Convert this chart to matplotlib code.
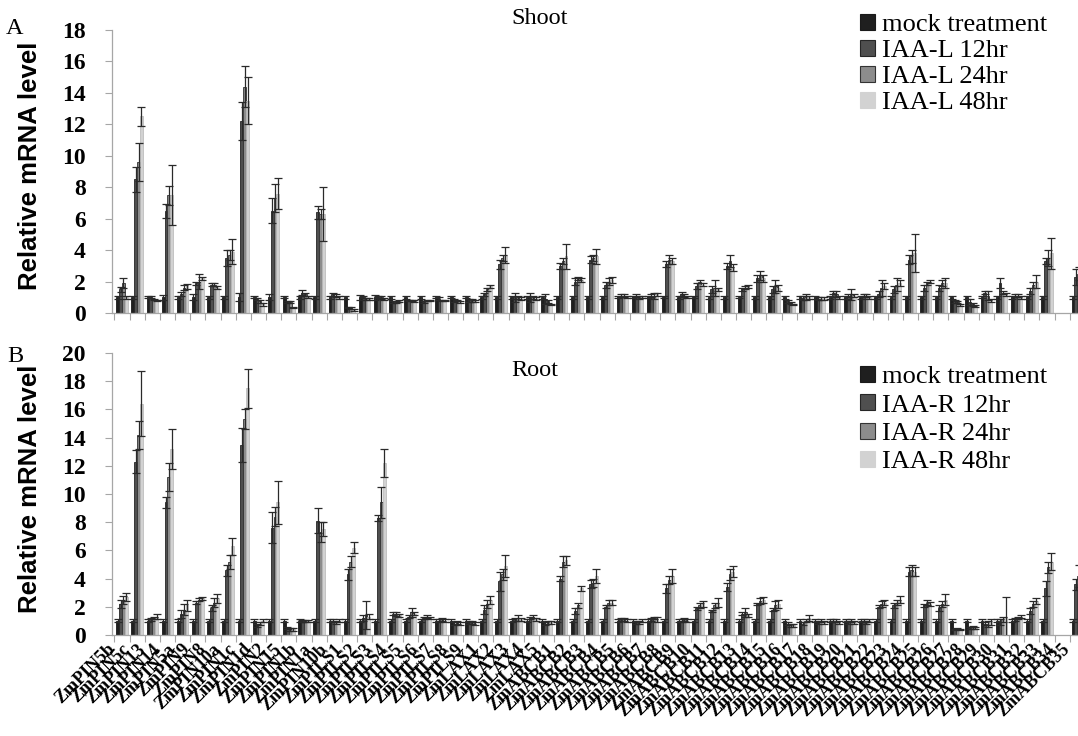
import numpy as np
import matplotlib
matplotlib.use("Agg")
import matplotlib.pyplot as plt
from matplotlib.patches import Patch

nan = np.nan

genes = (["ZmPIN5b", "ZmPIN5c", "ZmPIN13", "ZmPIN14", "ZmPIN5a", "ZmPIN9", "ZmPIN8",
          "ZmPIN10a", "ZmPIN1c", "ZmPIN1d", "ZmPIN2", "ZmPIN15", "ZmPIN1b", "ZmPIN1a",
          "ZmPIN10b"]
         + ["ZmPILS%d" % i for i in range(1, 10)]
         + ["ZmLAX%d" % i for i in range(1, 6)]
         + ["ZmABCB%d" % i for i in range(1, 36)])

series_shoot = ["mock treatment", "IAA-L 12hr", "IAA-L 24hr", "IAA-L 48hr"]
series_root = ["mock treatment", "IAA-R 12hr", "IAA-R 24hr", "IAA-R 48hr"]

# ---------------- Shoot (A) ----------------
shoot_mock = [1.0] * 62 + [nan, 1.0]
shoot_12h = [1.5, 8.5, 1.0, 6.5, 1.2, 1.9, 1.8, 3.5, 12.2, 0.9, 6.5, 0.7, 1.3, 6.4, 1.2,
             0.35, 1.0, 1.0, 0.7, 0.8, 0.7, 0.9, 0.8, 0.8, 1.2, 3.1, 1.0, 1.0, 0.9, 3.0,
             2.0, 3.4, 1.8, 1.1, 1.1, 1.1, 3.1, 1.2, 1.7, 1.5, 3.0, 1.5, 2.2, 1.5, 0.75,
             0.95, 0.9, 1.3, 1.1, 1.1, 1.2, 1.5, 3.4, 1.6, 1.6, 0.75, 0.7, 1.3, 1.9, 1.1,
             1.4, 3.3, nan, 2.3]
shoot_24h = [1.9, 9.6, 0.85, 7.5, 1.6, 2.0, 1.8, 3.7, 14.4, 0.75, 7.3, 0.7, 1.2, 6.3, 1.1,
             0.3, 0.9, 1.0, 0.7, 0.8, 0.8, 0.8, 0.8, 0.8, 1.5, 3.5, 1.0, 1.0, 0.75, 3.3,
             2.2, 3.5, 2.0, 1.1, 1.0, 1.1, 3.4, 1.1, 2.0, 1.6, 3.3, 1.6, 2.4, 1.7, 0.65,
             1.0, 0.9, 1.2, 1.2, 1.1, 1.6, 1.8, 3.6, 1.9, 1.9, 0.7, 0.55, 1.1, 1.3, 1.1,
             1.8, 3.5, nan, 2.5]
shoot_48h = [1.0, 12.5, 0.8, 7.5, 1.7, 2.2, 1.6, 3.9, 13.5, 0.55, 7.6, 0.35, 1.0, 6.3, 1.0,
             0.2, 0.9, 0.9, 0.75, 0.75, 0.8, 0.8, 0.7, 0.75, 1.7, 3.7, 0.9, 0.9, 0.55, 3.6,
             2.1, 3.6, 2.1, 1.0, 1.0, 1.2, 3.3, 1.0, 1.8, 1.5, 2.9, 1.7, 2.2, 1.6, 0.55,
             1.0, 0.9, 1.0, 1.1, 1.0, 1.7, 1.9, 3.8, 2.0, 1.9, 0.5, 0.45, 0.8, 1.2, 1.0,
             2.0, 3.8, nan, 2.9]
shoot_mock_err = [0.1, 0.1, 0.05, 0.15, 0.1, 0.2, 0.1, 0.1, 0.25, 0.05, 0.2, 0.05, 0.1, 0.1,
                  0.1, 0.1, 0.15, 0.15, 0.1, 0.1, 0.1, 0.05, 0.05, 0.05, 0.1, 0.1, 0.1, 0.1,
                  0.1, 0.1, 0.1, 0.1, 0.1, 0.05, 0.05, 0.05, 0.05, 0.1, 0.05, 0.1, 0.1, 0.05,
                  0.1, 0.1, 0.1, 0.1, 0.1, 0.1, 0.1, 0.1, 0.1, 0.1, 0.1, 0.1, 0.1, 0.1, 0.1,
                  0.05, 0.1, 0.1, 0.1, 0.1, nan, 0.1]
shoot_12h_err = [0.15, 0.8, 0.05, 0.45, 0.15, 0.1, 0.1, 0.5, 1.2, 0.05, 0.8, 0.05, 0.15, 0.4,
                 0.1, 0.05, 0.05, 0.05, 0.05, 0.05, 0.05, 0.1, 0.1, 0.1, 0.1, 0.3, 0.3, 0.3,
                 0.3, 0.2, 0.2, 0.2, 0.2, 0.1, 0.1, 0.1, 0.2, 0.15, 0.2, 0.2, 0.2, 0.1, 0.2,
                 0.2, 0.1, 0.1, 0.1, 0.1, 0.1, 0.1, 0.2, 0.2, 0.3, 0.2, 0.2, 0.1, 0.2, 0.1,
                 0.3, 0.1, 0.2, 0.2, nan, 0.5]
shoot_24h_err = [0.3, 1.2, 0.05, 0.6, 0.15, 0.5, 0.1, 0.3, 1.3, 0.1, 0.9, 0.05, 0.1, 0.3,
                 0.1, 0.05, 0.05, 0.1, 0.05, 0.05, 0.05, 0.05, 0.05, 0.1, 0.1, 0.2, 0.1, 0.1,
                 0.1, 0.2, 0.1, 0.2, 0.2, 0.1, 0.1, 0.2, 0.3, 0.1, 0.1, 0.5, 0.4, 0.1, 0.3,
                 0.4, 0.05, 0.2, 0.1, 0.2, 0.35, 0.1, 0.5, 0.4, 0.4, 0.1, 0.2, 0.05, 0.1, 0.3,
                 0.1, 0.1, 0.2, 0.5, nan, 0.4]
shoot_48h_err = [0.1, 0.6, 0.05, 1.9, 0.15, 0.1, 0.1, 0.8, 1.5, 0.1, 1.0, 0.05, 0.05, 1.7,
                 0.1, 0.05, 0.05, 0.05, 0.05, 0.05, 0.05, 0.05, 0.05, 0.05, 0.1, 0.5, 0.1,
                 0.1, 0.05, 0.8, 0.1, 0.5, 0.2, 0.05, 0.05, 0.1, 0.2, 0.05, 0.1, 0.1, 0.2,
                 0.1, 0.2, 0.2, 0.05, 0.1, 0.1, 0.1, 0.1, 0.1, 0.2, 0.2, 1.2, 0.1, 0.3, 0.05,
                 0.05, 0.1, 0.1, 0.1, 0.4, 1.0, nan, 0.8]

# ---------------- Root (B) ----------------
root_mock = [1.0] * 62 + [nan, 1.0]
root_12h = [2.2, 12.3, 1.1, 9.4, 1.5, 2.3, 1.9, 4.6, 13.5, 0.7, 7.6, 0.5, 1.0, 8.1, 1.0,
            4.3, 1.2, 8.3, 1.5, 1.3, 1.2, 1.0, 0.8, 0.9, 1.8, 3.8, 1.1, 1.2, 0.8, 4.0,
            1.7, 3.6, 2.0, 1.1, 0.9, 1.1, 3.3, 1.0, 1.9, 1.7, 3.4, 1.5, 2.2, 1.8, 0.8,
            0.8, 0.9, 1.0, 0.9, 1.0, 2.0, 2.1, 4.5, 2.1, 1.9, 0.4, 0.5, 0.8, 0.9, 1.1,
            1.7, 3.3, nan, 3.6]
root_24h = [2.5, 14.2, 1.2, 11.2, 1.8, 2.5, 2.3, 5.2, 15.3, 0.8, 8.4, 0.4, 1.0, 7.3, 0.9,
            5.2, 1.4, 9.4, 1.5, 1.6, 1.3, 1.1, 0.9, 0.9, 2.2, 4.3, 1.2, 1.3, 0.9, 5.2,
            2.1, 3.7, 2.3, 1.1, 0.9, 1.2, 3.9, 1.1, 2.1, 2.1, 4.3, 1.6, 2.4, 2.1, 0.7,
            1.0, 1.0, 1.0, 1.0, 0.9, 2.2, 2.3, 4.6, 2.3, 2.2, 0.45, 0.55, 0.8, 1.1, 1.2,
            2.2, 4.8, nan, 4.2]
root_48h = [2.7, 16.4, 1.3, 13.2, 2.1, 2.6, 2.6, 6.3, 17.5, 1.0, 9.4, 0.4, 1.0, 7.5, 1.0,
            6.2, 1.3, 12.2, 1.4, 1.5, 1.2, 1.0, 0.8, 0.8, 2.5, 4.9, 1.1, 1.1, 0.9, 5.3,
            3.3, 4.2, 2.3, 1.0, 1.0, 1.1, 4.2, 1.0, 2.2, 2.3, 4.5, 1.4, 2.5, 2.2, 0.7,
            1.2, 0.9, 0.9, 0.9, 1.0, 2.3, 2.5, 4.5, 2.2, 2.5, 0.4, 0.5, 0.9, 1.3, 1.3,
            2.4, 5.2, nan, 4.7]
root_mock_err = [0.1] * 62 + [nan, 0.1]
root_12h_err = [0.3, 0.8, 0.1, 0.4, 0.3, 0.1, 0.2, 0.4, 1.2, 0.1, 1.1, 0.1, 0.05, 0.9, 0.1,
                0.4, 0.2, 0.2, 0.1, 0.1, 0.1, 0.1, 0.1, 0.1, 0.3, 0.65, 0.1, 0.1, 0.1, 0.2,
                0.2, 0.3, 0.1, 0.1, 0.1, 0.1, 0.3, 0.1, 0.1, 0.1, 0.3, 0.1, 0.1, 0.1, 0.1,
                0.1, 0.1, 0.1, 0.1, 0.1, 0.1, 0.2, 0.3, 0.1, 0.2, 0.05, 0.1, 0.1, 0.2, 0.1,
                0.2, 0.5, nan, 0.4]
root_24h_err = [0.3, 1.0, 0.1, 1.0, 0.4, 0.1, 0.3, 0.5, 0.7, 0.1, 0.7, 0.1, 0.05, 0.7, 0.1,
                0.4, 1.0, 1.1, 0.15, 0.3, 0.1, 0.1, 0.1, 0.1, 0.3, 0.4, 0.2, 0.1, 0.1, 0.4,
                0.2, 0.3, 0.2, 0.1, 0.1, 0.1, 0.3, 0.1, 0.2, 0.2, 0.4, 0.3, 0.2, 0.3, 0.1,
                0.1, 0.1, 0.1, 0.1, 0.1, 0.2, 0.2, 0.4, 0.15, 0.2, 0.05, 0.1, 0.2, 0.2, 0.1,
                0.2, 0.4, nan, 0.8]
root_48h_err = [0.3, 2.3, 0.2, 1.4, 0.4, 0.1, 0.3, 0.6, 1.4, 0.1, 1.5, 0.1, 0.05, 0.5, 0.1,
                0.4, 0.2, 1.0, 0.1, 0.1, 0.1, 0.1, 0.1, 0.1, 0.3, 0.8, 0.1, 0.1, 0.1, 0.3,
                0.2, 0.5, 0.2, 0.1, 0.1, 0.2, 0.5, 0.1, 0.2, 0.3, 0.4, 0.1, 0.2, 0.3, 0.1,
                0.2, 0.1, 0.1, 0.1, 0.1, 0.2, 0.25, 0.3, 0.15, 0.4, 0.05, 0.1, 0.2, 1.4, 0.1,
                0.2, 0.6, nan, 1.2]

colors = ["#1f1f1f", "#4f4f4f", "#8c8c8c", "#d2d2d2"]
edges = ["#1a1a1a", "#262626", "#333333", "#bdbdbd"]

SERIF = ["Liberation Serif", "DejaVu Serif"]
SANS = ["Liberation Sans", "DejaVu Sans"]

W, H = 1078, 736
fig = plt.figure(figsize=(W / 100, H / 100), dpi=100)
fig.patch.set_facecolor("white")

x = np.arange(len(genes))
bw = 0.19
offs = (np.arange(4) - 1.5) * bw

AX_LEFT = 112
AX_RIGHT = 1110          # axes run past the figure edge, as in the cropped original
PX_PER_GROUP = 15.2
xl = (-0.5, -0.5 + (AX_RIGHT - AX_LEFT) / PX_PER_GROUP)
LABEL_SHIFT = 10 / PX_PER_GROUP   # label anchor a little left of the group centre


def panel(rect, vals, errs, ymax, show_xlabels):
    ax = fig.add_axes(rect)
    for i in range(4):
        v = np.array(vals[i], dtype=float)
        e = np.array(errs[i], dtype=float)
        ax.bar(x + offs[i], v, width=bw, color=colors[i], edgecolor=edges[i],
               linewidth=0.6, zorder=2)
        ax.errorbar(x + offs[i], v, yerr=e, fmt="none", ecolor="#2a2a2a",
                    elinewidth=0.9, capsize=3.2, capthick=0.9, zorder=3)
    ax.set_xlim(*xl)
    ax.set_ylim(0, ymax)
    ticks = np.arange(0, ymax + 0.1, 2)
    ax.set_yticks(ticks)
    ax.set_yticklabels([str(int(t)) for t in ticks],
                       fontfamily=SERIF, fontweight="bold", fontsize=17)
    ax.set_xticks(np.arange(-0.5, len(genes), 1.0))
    ax.set_xticklabels([])
    ax.set_xticks(x - LABEL_SHIFT, minor=True)
    if show_xlabels:
        ax.set_xticklabels(genes, minor=True, rotation=45, ha="right",
                           va="center", rotation_mode="anchor",
                           fontfamily=SERIF, fontweight="bold", fontsize=13)
    else:
        ax.set_xticklabels([], minor=True)
    ax.tick_params(axis="x", which="major", direction="out", length=5,
                   color="#a6a6a6", width=0.8)
    ax.tick_params(axis="x", which="minor", length=0, pad=8.5)
    ax.tick_params(axis="y", direction="out", length=5, color="#a6a6a6",
                   width=0.8, pad=14)
    for s in ["top", "right"]:
        ax.spines[s].set_visible(False)
    for s in ["left", "bottom"]:
        ax.spines[s].set_color("#a6a6a6")
        ax.spines[s].set_linewidth(0.9)
    ax.set_ylabel("Relative mRNA level", fontfamily=SANS, fontweight="bold",
                  fontsize=18.5)
    handles = [Patch(facecolor=colors[i], edgecolor=(edges[i] if i < 3 else colors[i]),
                     linewidth=0.8) for i in range(4)]
    return ax, handles


wfrac = (AX_RIGHT - AX_LEFT) / W
top_rect = [AX_LEFT / W, (H - 313) / H, wfrac, 283 / H]
bot_rect = [AX_LEFT / W, (H - 635) / H, wfrac, 282 / H]

axA, hA = panel(top_rect, [shoot_mock, shoot_12h, shoot_24h, shoot_48h],
                [shoot_mock_err, shoot_12h_err, shoot_24h_err, shoot_48h_err],
                18, False)
axB, hB = panel(bot_rect, [root_mock, root_12h, root_24h, root_48h],
                [root_mock_err, root_12h_err, root_24h_err, root_48h_err],
                20, True)

for ax in (axA, axB):
    ax.yaxis.set_label_coords((42 - AX_LEFT) / (AX_RIGHT - AX_LEFT), 0.52)

legA = fig.legend(hA, series_shoot, loc="upper left",
                  bbox_to_anchor=(860 / W, 1 - 14 / H), frameon=False,
                  prop={"family": SERIF, "size": 19}, handlelength=0.55,
                  handleheight=0.55, handletextpad=0.3, labelspacing=0.14,
                  borderaxespad=0, borderpad=0)
legB = fig.legend(hB, series_root, loc="upper left",
                  bbox_to_anchor=(860 / W, 1 - 366 / H), frameon=False,
                  prop={"family": SERIF, "size": 19}, handlelength=0.55,
                  handleheight=0.55, handletextpad=0.3, labelspacing=0.23,
                  borderaxespad=0, borderpad=0)

fig.text(540 / W, 1 - 18 / H, "Shoot", ha="center", va="center",
         fontfamily=SERIF, fontsize=17.5)
fig.text(535 / W, 1 - 371 / H, "Root", ha="center", va="center",
         fontfamily=SERIF, fontsize=17.5)
fig.text(15 / W, 1 - 28 / H, "A", ha="center", va="center",
         fontfamily=SERIF, fontsize=17.5)
fig.text(15 / W, 1 - 357 / H, "B", ha="center", va="center",
         fontfamily=SERIF, fontsize=17.5)

fig.savefig("out.png", dpi=100)
